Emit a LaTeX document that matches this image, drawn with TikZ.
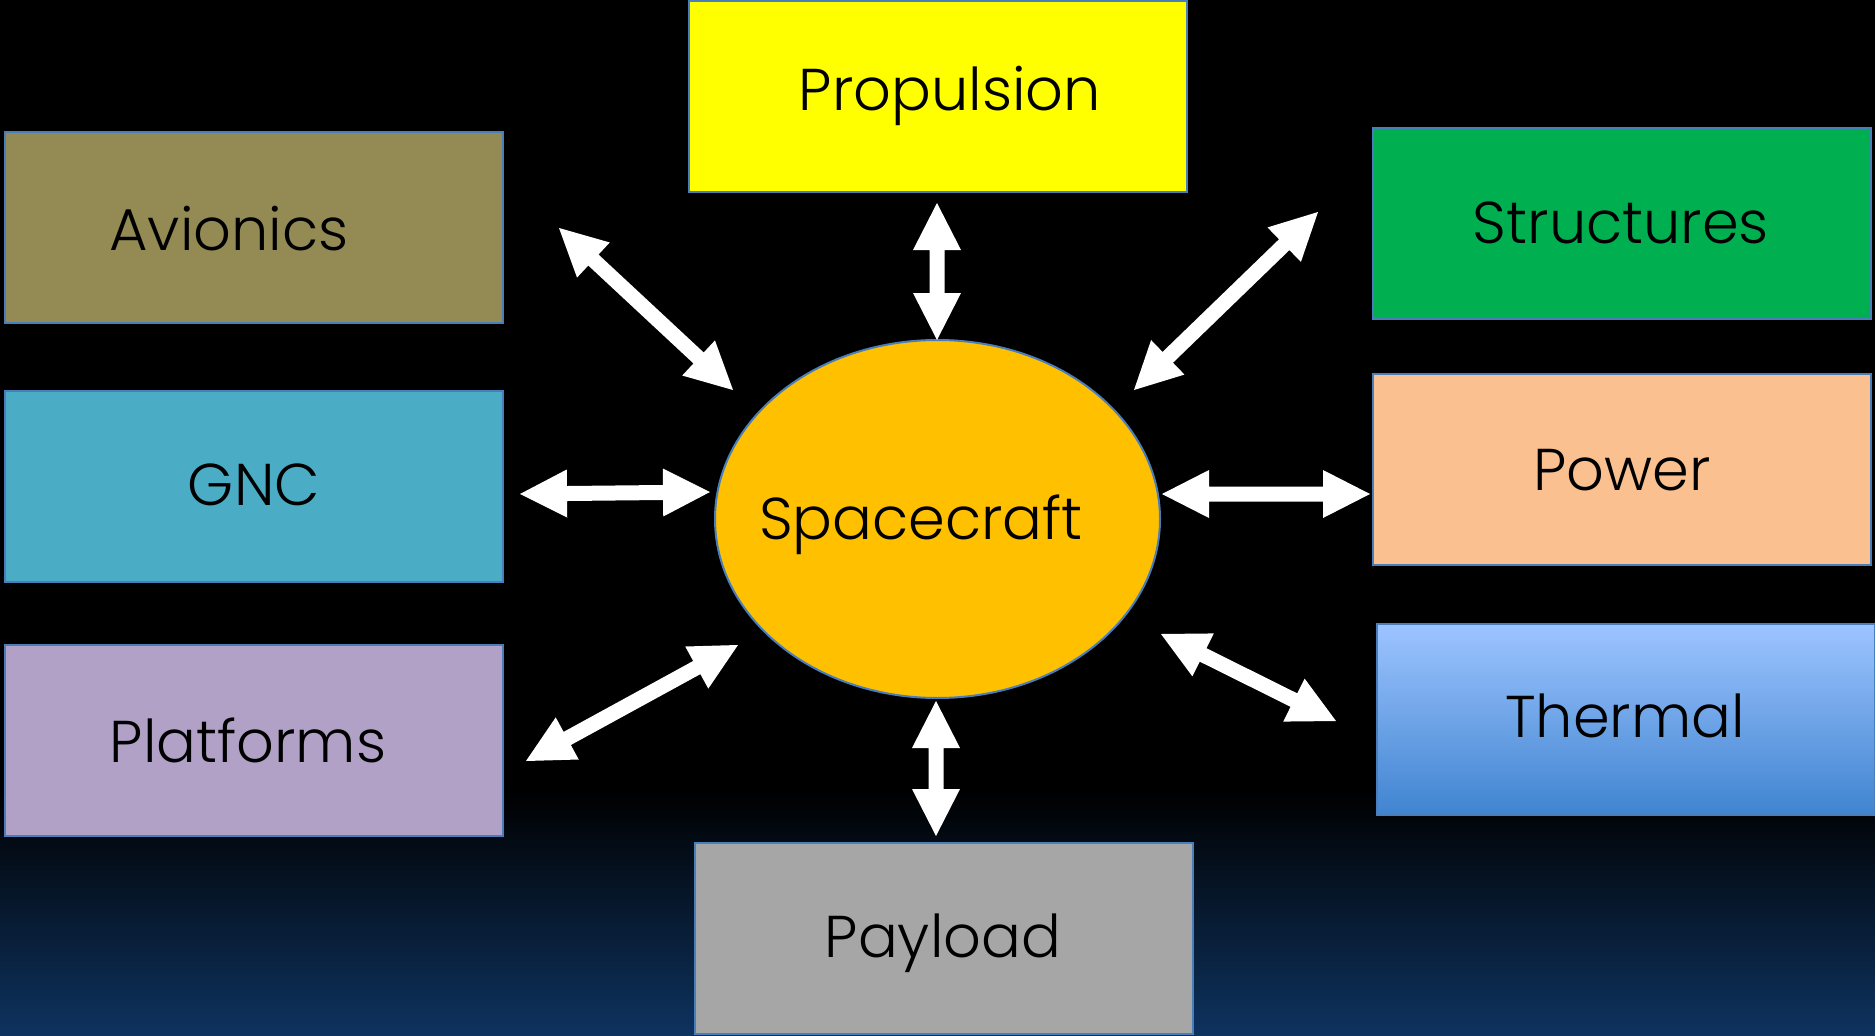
\documentclass[tikz,border=0pt]{standalone}
\usepackage{fontspec}
\setmainfont{Poppins Light}
\usetikzlibrary{calc,shapes.geometric}
\definecolor{bgblue}{RGB}{14,51,96}
\definecolor{boxborder}{RGB}{74,126,187}
\definecolor{propc}{RGB}{255,255,0}
\definecolor{avic}{RGB}{148,138,84}
\definecolor{gncc}{RGB}{75,172,198}
\definecolor{platc}{RGB}{178,161,199}
\definecolor{strc}{RGB}{0,176,80}
\definecolor{powc}{RGB}{250,192,144}
\definecolor{thtop}{RGB}{157,196,255}
\definecolor{thbot}{RGB}{64,132,208}
\definecolor{payc}{RGB}{166,166,166}
\definecolor{scc}{RGB}{255,192,0}
\newcommand{\hlen}{47pt}
\newcommand{\hhalf}{24pt}
\newcommand{\shalf}{7.5pt}
\newcommand{\DArrow}[2]{%
  \coordinate (p1) at ($(#1)!\hlen!(#2)$);
  \coordinate (p2) at ($(#2)!\hlen!(#1)$);
  \fill[white] (#1) -- ($(p1)!\hhalf!90:(#2)$) -- ($(p1)!\shalf!90:(#2)$)
    -- ($(p2)!\shalf!-90:(#1)$) -- ($(p2)!\hhalf!-90:(#1)$) -- (#2)
    -- ($(p2)!\hhalf!90:(#1)$) -- ($(p2)!\shalf!90:(#1)$)
    -- ($(p1)!\shalf!-90:(#2)$) -- ($(p1)!\hhalf!-90:(#2)$) -- cycle;}
\begin{document}
\begin{tikzpicture}[x=1pt,y=-1pt,
  box/.style={draw=boxborder,line width=2pt,minimum width=498pt,minimum height=191pt,inner sep=0pt},
  lbl/.style={font=\fontsize{59}{66}\selectfont,text=black,inner sep=0pt,anchor=base}]
\useasboundingbox (0,0) rectangle (1875,1036);
\fill[black] (0,0) rectangle (1875,1036);
\shade[top color=black,bottom color=bgblue] (0,790) rectangle (1875,1036);
% boxes
\node[box,fill=propc] (prop) at (938,96) {};
\node[box,fill=avic] (avi) at (253.5,227) {};
\node[box,fill=gncc] (gnc) at (253.5,486) {};
\node[box,fill=platc] (plat) at (253.5,740.5) {};
\node[box,fill=strc] (str) at (1621.5,223) {};
\node[box,fill=powc] (pow) at (1621.5,469) {};
\node[box,top color=thtop,bottom color=thbot] (therm) at (1625.5,719.5) {};
\node[box,fill=payc] (pay) at (943.5,938) {};
\node[draw=boxborder,line width=2pt,fill=scc,ellipse,minimum width=445pt,minimum height=358pt,inner sep=0pt] (sc) at (937.5,519) {};
% labels
\node[lbl] (propt) at (950,110) {Propulsion};
\node[lbl] (avit) at (229,250) {Avionics};
\node[lbl] (gnct) at (254,505) {GNC};
\node[lbl] (platt) at (248,762) {Platforms};
\node[lbl] (strt) at (1621,243) {Structures};
\node[lbl] (powt) at (1622,490) {Power};
\node[lbl] (thermt) at (1625,737) {Thermal};
\node[lbl] (payt) at (943,957) {Payload};
\node[lbl] (sct) at (921,539) {Spacecraft};
% arrow ends
\coordinate (a1) at (937,203); \coordinate (b1) at (937,340);
\coordinate (a2) at (559,228); \coordinate (b2) at (733,390);
\coordinate (a3) at (1318,212); \coordinate (b3) at (1134,390);
\coordinate (a4) at (520,494); \coordinate (b4) at (710,492);
\coordinate (a5) at (1162,494); \coordinate (b5) at (1370,494);
\coordinate (a6) at (526,761); \coordinate (b6) at (738,645);
\coordinate (a7) at (1161,634); \coordinate (b7) at (1336,721);
\coordinate (a8) at (936,701); \coordinate (b8) at (936,836);
\DArrow{a1}{b1}
\DArrow{a2}{b2}
\DArrow{a3}{b3}
\DArrow{a4}{b4}
\DArrow{a5}{b5}
\DArrow{a6}{b6}
\DArrow{a7}{b7}
\DArrow{a8}{b8}
\end{tikzpicture}
\end{document}
